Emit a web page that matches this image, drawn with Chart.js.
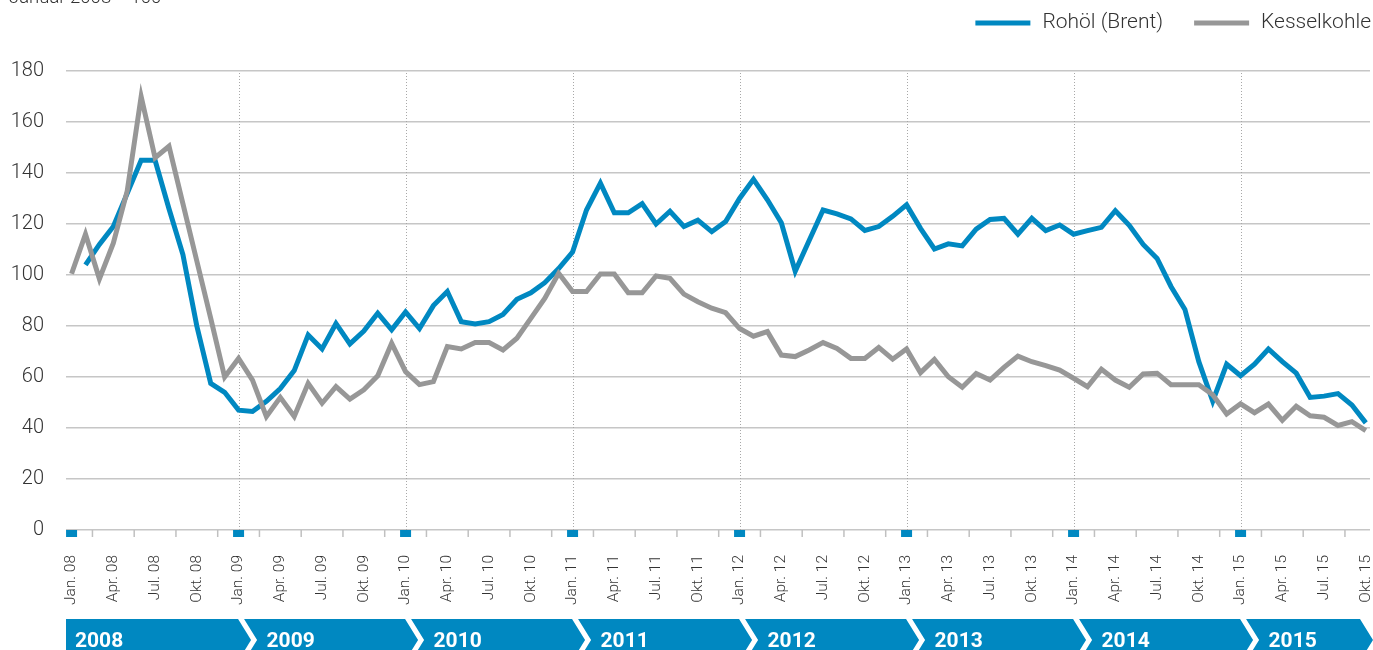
<!DOCTYPE html>
<html>
<head>
<meta charset="utf-8">
<script src="https://cdn.jsdelivr.net/npm/chart.js@4.4.1/dist/chart.umd.min.js"></script>
<style>
  html, body { margin: 0; padding: 0; background: #fff; }
  canvas { display: block; }
</style>
</head>
<body>
<canvas id="chart" width="1373" height="650"></canvas>
<script>
// tick labels, one every three months (Jan. 08 .. Okt. 15)
const quarterLabels = [
  "Jan. 08", "Apr. 08", "Jul. 08", "Okt. 08",
  "Jan. 09", "Apr. 09", "Jul. 09", "Okt. 09",
  "Jan. 10", "Apr. 10", "Jul. 10", "Okt. 10",
  "Jan. 11", "Apr. 11", "Jul. 11", "Okt. 11",
  "Jan. 12", "Apr. 12", "Jul. 12", "Okt. 12",
  "Jan. 13", "Apr. 13", "Jul. 13", "Okt. 13",
  "Jan. 14", "Apr. 14", "Jul. 14", "Okt. 14",
  "Jan. 15", "Apr. 15", "Jul. 15", "Okt. 15"
];
const years = ["2008", "2009", "2010", "2011", "2012", "2013", "2014", "2015"];

// monthly index values, Januar 2008 = 100
const brent = [
  null, 104, 112, 119, 132, 145, 145, 126, 108, 80,
  57.5, 54, 47, 46.5, 50.5, 55.5, 62.5, 76.5, 71, 81,
  73, 78, 85, 78.5, 85.5, 79, 88, 93.5, 81.7, 80.8,
  81.7, 84.5, 90.5, 93, 97, 102.5, 109, 125.5, 136, 124.4,
  124.4, 128, 120, 125, 119, 121.5, 117, 121, 130, 137.5,
  129.5, 120.5, 101.5, 113.5, 125.5, 124, 122, 117.5, 119, 123,
  127.5, 118.3, 110.2, 112.2, 111.4, 118, 121.8, 122.2, 116, 122.2,
  117.4, 119.6, 116, 117.4, 118.7, 125.2, 119.5, 112, 106.5, 95.5,
  86.5, 66, 50.5, 65, 60.5, 65, 71, 66, 61.5, 52,
  52.5, 53.5, 49, 42
];
const kohle = [
  100.5, 116, 98.5, 112.5, 133, 170, 146, 150.5, 128, 105.5,
  83, 60, 67.3, 58.8, 44.5, 52, 44.5, 57.5, 49.7, 56.2,
  51.3, 55, 60.5, 73.2, 62.1, 57, 58.2, 71.9, 71, 73.5,
  73.5, 70.6, 75.2, 83, 90.8, 100.7, 93.5, 93.5, 100.4, 100.4,
  93, 93, 99.6, 98.7, 92.5, 89.5, 87, 85.2, 79, 76,
  77.8, 68.6, 68, 70.6, 73.5, 71.2, 67.3, 67.3, 71.6, 67,
  71, 61.7, 66.9, 60.1, 56, 61.4, 58.8, 63.8, 68.2, 66,
  64.5, 62.7, 59.5, 56.2, 63, 58.8, 56, 61.2, 61.5, 57,
  57, 57, 53, 45.5, 49.5, 46, 49.4, 43, 48.5, 44.8,
  44.2, 41, 42.5, 39
];

const FONT = "Roboto, 'Liberation Sans', sans-serif";
const BLUE = "#0088c1";
const GREY = "#979797";
const TEXT = "#333333";

const toPoints = (arr) => arr.map((v, i) => ({ x: i, y: v }));

// dotted year lines, axis ticks, year banner, legend and subtitle
const decor = {
  id: "decor",
  beforeDatasetsDraw(chart) {
    const { ctx, chartArea, scales: { x } } = chart;
    ctx.save();
    ctx.strokeStyle = "#a8a8a8";
    ctx.lineWidth = 1;
    ctx.setLineDash([1, 2]);
    for (let m = 12; m < kohle.length; m += 12) {
      const px = Math.round(x.getPixelForValue(m)) + 0.5;
      ctx.beginPath();
      ctx.moveTo(px, chartArea.top + 2);
      ctx.lineTo(px, chartArea.bottom);
      ctx.stroke();
    }
    ctx.restore();
  },
  afterDraw(chart) {
    const { ctx, chartArea, scales: { x } } = chart;
    const bottom = chartArea.bottom;
    ctx.save();

    ctx.strokeStyle = "#c0c0c0";
    ctx.lineWidth = 1.5;
    for (let m = 1.5; m < kohle.length - 1; m += 3) {
      const px = x.getPixelForValue(m);
      ctx.beginPath();
      ctx.moveTo(px, bottom);
      ctx.lineTo(px, bottom + 7);
      ctx.stroke();
    }

    ctx.fillStyle = BLUE;
    for (let m = 0; m < kohle.length; m += 12) {
      const px = x.getPixelForValue(m);
      ctx.fillRect(px - 5.5, bottom, 11, 7);
    }

    const top = 619, bot = 661, mid = 640, d = 13;
    years.forEach((yr, k) => {
      const L = k === 0 ? chartArea.left : x.getPixelForValue(12 * k) + 5.5;
      const R = k === years.length - 1 ? 1360 : x.getPixelForValue(12 * (k + 1)) - 0.5;
      ctx.beginPath();
      ctx.moveTo(L, top);
      ctx.lineTo(R, top);
      ctx.lineTo(R + d, mid);
      ctx.lineTo(R, bot);
      ctx.lineTo(L, bot);
      if (k > 0) ctx.lineTo(L + d, mid);
      ctx.closePath();
      ctx.fillStyle = BLUE;
      ctx.fill();
      ctx.fillStyle = "#ffffff";
      ctx.font = "bold 21px " + FONT;
      ctx.textBaseline = "alphabetic";
      ctx.fillText(yr, k === 0 ? L + 9 : L + 22.5, 646.5);
    });

    // legend, right aligned
    ctx.font = "300 21px " + FONT;
    ctx.textBaseline = "middle";
    const sets = chart.data.datasets;
    let xr = 1371;
    for (let i = sets.length - 1; i >= 0; i--) {
      const w = ctx.measureText(sets[i].label).width;
      const tx = xr - w;
      ctx.fillStyle = TEXT;
      ctx.fillText(sets[i].label, tx, 23);
      ctx.strokeStyle = sets[i].borderColor;
      ctx.lineWidth = 5;
      ctx.beginPath();
      ctx.moveTo(tx - 67, 23);
      ctx.lineTo(tx - 12, 23);
      ctx.stroke();
      xr = tx - 67 - 31;
    }

    ctx.font = "300 18.5px " + FONT;
    ctx.textBaseline = "alphabetic";
    ctx.fillStyle = TEXT;
    ctx.fillText("Januar 2008 = 100", 9, 3);
    ctx.restore();
  }
};

new Chart(document.getElementById("chart"), {
  type: "line",
  data: {
    datasets: [
      {
        label: "Rohöl (Brent)",
        data: toPoints(brent),
        borderColor: BLUE,
        backgroundColor: BLUE,
        borderWidth: 5,
        pointRadius: 0,
        tension: 0,
        order: 2,
      },
      {
        label: "Kesselkohle",
        data: toPoints(kohle),
        borderColor: GREY,
        backgroundColor: GREY,
        borderWidth: 5,
        pointRadius: 0,
        tension: 0,
        order: 1,
      },
    ],
  },
  options: {
    responsive: false,
    animation: false,
    devicePixelRatio: 1,
    layout: { padding: { top: 71, right: 3, left: 0, bottom: 0 } },
    plugins: {
      legend: { display: false },
      tooltip: { enabled: false },
    },
    scales: {
      x: {
        type: "linear",
        min: -0.4,
        max: 93.3,
        grid: { display: false },
        border: { display: false },
        afterBuildTicks: (scale) => {
          scale.ticks = quarterLabels.map((_, i) => ({ value: i * 3 }));
        },
        afterFit: (scale) => {
          scale.height = 120;
          scale.paddingLeft = 0;
          scale.paddingRight = 0;
        },
        ticks: {
          autoSkip: false,
          minRotation: 90,
          maxRotation: 90,
          padding: 17,
          color: TEXT,
          font: { family: FONT, size: 15.5, weight: 300 },
          callback: (v) => quarterLabels[v / 3],
        },
      },
      y: {
        min: 0,
        max: 180,
        grid: { color: "#c6c6c6", lineWidth: 1.5, drawTicks: false },
        border: { display: false },
        afterFit: (scale) => { scale.width = 66; },
        ticks: {
          stepSize: 20,
          padding: 22,
          color: TEXT,
          font: { family: FONT, size: 20, weight: 300 },
        },
      },
    },
  },
  plugins: [decor],
});
</script>
</body>
</html>
